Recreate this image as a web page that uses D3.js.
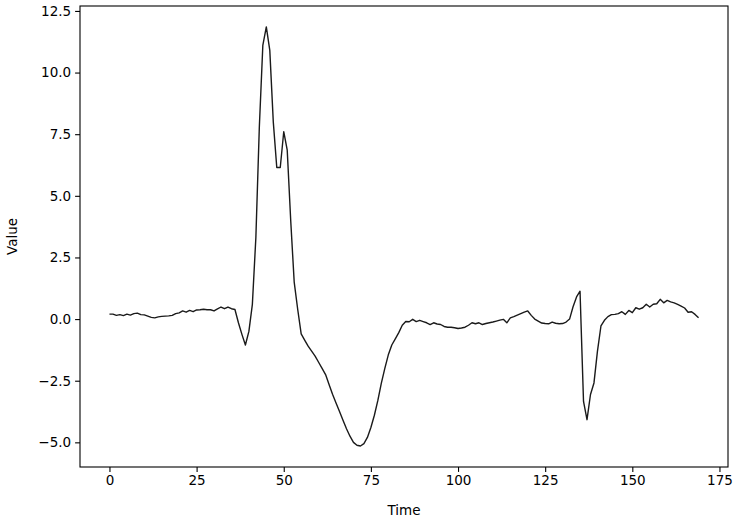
<!DOCTYPE html>
<html>
<head>
<meta charset="utf-8">
<script src="https://cdn.jsdelivr.net/npm/d3@7"></script>
<style>
  html, body { margin: 0; padding: 0; background: #fff; }
  svg { display: block; }
  text { font-family: "DejaVu Sans", sans-serif; fill: #000; }
</style>
</head>
<body>
<svg id="chart" width="745" height="522"></svg>
<script>
// ---- data ----
const values = [
  0.20, 0.20, 0.15, 0.18, 0.14, 0.20, 0.16, 0.22, 0.24, 0.18,
  0.17, 0.12, 0.07, 0.05, 0.09, 0.11, 0.12, 0.13, 0.15, 0.22,
  0.25, 0.33, 0.28, 0.35, 0.30, 0.37, 0.38, 0.40, 0.38, 0.38,
  0.33, 0.41, 0.49, 0.42, 0.49, 0.42, 0.39, -0.15, -0.62, -1.05,
  -0.50, 0.60, 3.30, 7.80, 11.10, 11.85, 10.90, 8.00, 6.15, 6.15,
  7.60, 6.85, 4.00, 1.50, 0.40, -0.60, -0.85, -1.10, -1.30, -1.50,
  -1.75, -2.00, -2.25, -2.65, -3.05, -3.40, -3.75, -4.10, -4.45, -4.75,
  -5.00, -5.12, -5.15, -5.05, -4.80, -4.40, -3.90, -3.30, -2.60, -2.00,
  -1.45, -1.05, -0.80, -0.55, -0.25, -0.10, -0.11, -0.01, -0.10, -0.05,
  -0.10, -0.15, -0.22, -0.15, -0.20, -0.22, -0.30, -0.33, -0.33, -0.35,
  -0.38, -0.36, -0.33, -0.25, -0.15, -0.19, -0.15, -0.22, -0.18, -0.15,
  -0.12, -0.08, -0.04, -0.01, -0.15, 0.05, 0.10, 0.16, 0.22, 0.28,
  0.33, 0.15, 0.00, -0.08, -0.16, -0.18, -0.19, -0.12, -0.17, -0.19,
  -0.18, -0.12, 0.00, 0.50, 0.90, 1.13, -3.34, -4.08, -3.06, -2.59,
  -1.30, -0.28, -0.05, 0.10, 0.18, 0.19, 0.22, 0.30, 0.19, 0.35,
  0.26, 0.46, 0.40, 0.46, 0.60, 0.49, 0.60, 0.62, 0.80, 0.66,
  0.76, 0.70, 0.66, 0.60, 0.53, 0.45, 0.28, 0.30, 0.19, 0.05
];
const times = values.map((_, i) => i);
const xTicks = [0, 25, 50, 75, 100, 125, 150, 175];
const yTicks = [-5.0, -2.5, 0.0, 2.5, 5.0, 7.5, 10.0, 12.5];
const xLabel = "Time";
const yLabel = "Value";

// ---- layout ----
const mLeft = 80, mRight = 728, mTop = 6, mBottom = 467;
const svg = d3.select("#chart");

const xMin = d3.min(times), xMax = d3.max(times);
const xPad = (xMax - xMin) * 0.05;
const yMin = d3.min(values), yMax = d3.max(values);
const yPad = (yMax - yMin) * 0.05;

const x = d3.scaleLinear().domain([xMin - xPad, xMax + xPad]).range([mLeft, mRight]);
const y = d3.scaleLinear().domain([yMin - yPad, yMax + yPad]).range([mBottom, mTop]);

// line
const line = d3.line().x((d, i) => x(times[i])).y(d => y(d));
svg.append("path")
  .datum(values)
  .attr("d", line)
  .attr("fill", "none")
  .attr("stroke", "#1a1a1a")
  .attr("stroke-width", 1.4)
  .attr("stroke-linejoin", "round");

// axes
const xAxis = d3.axisBottom(x).tickValues(xTicks).tickFormat(d3.format("d"))
  .tickSize(4.9).tickPadding(4);
const yAxis = d3.axisLeft(y).tickValues(yTicks).tickFormat(d3.format(".1f"))
  .tickSize(4.9).tickPadding(4);

const gx = svg.append("g").attr("transform", `translate(0,${mBottom})`).call(xAxis);
const gy = svg.append("g").attr("transform", `translate(${mLeft},0)`).call(yAxis);
[gx, gy].forEach(g => {
  g.select(".domain").remove();
  g.selectAll(".tick line").attr("stroke", "#000").attr("stroke-width", 1.1);
  g.selectAll(".tick text").attr("font-size", "13.5px").attr("fill", "#000")
    .attr("font-family", "DejaVu Sans, sans-serif");
});
gy.selectAll(".tick text").text(d => d3.format(".1f")(d).replace("-", "\u2212"));

// frame
svg.append("rect")
  .attr("x", mLeft).attr("y", mTop)
  .attr("width", mRight - mLeft).attr("height", mBottom - mTop)
  .attr("fill", "none").attr("stroke", "#000").attr("stroke-width", 1.1);

// labels
svg.append("text")
  .attr("x", (mLeft + mRight) / 2).attr("y", 515)
  .attr("text-anchor", "middle").attr("font-size", "13.5px")
  .text(xLabel);
svg.append("text")
  .attr("transform", `translate(17,${(mTop + mBottom) / 2}) rotate(-90)`)
  .attr("text-anchor", "middle").attr("font-size", "13.5px")
  .text(yLabel);
</script>
</body>
</html>
